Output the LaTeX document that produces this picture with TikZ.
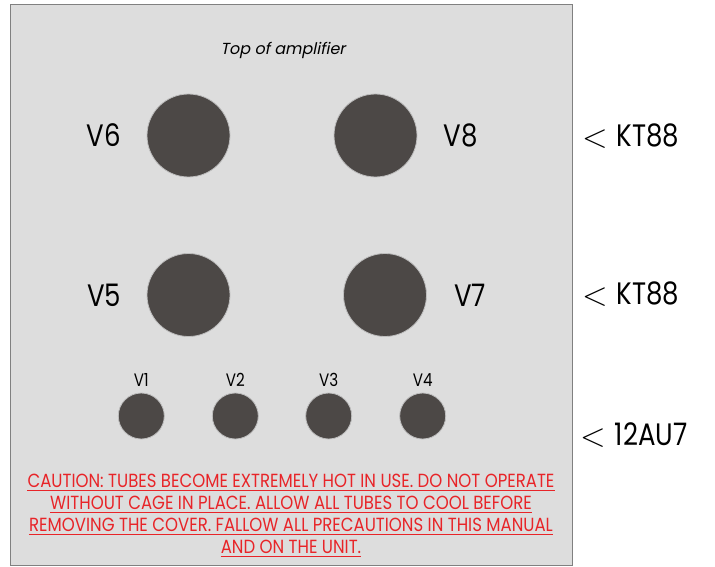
\documentclass[tikz,border=0pt]{standalone}
\usepackage{fontspec}
\setmainfont{Poppins}
\newfontfamily\condfont[FakeStretch=0.87]{Poppins}
\newfontfamily\labfont[FakeStretch=0.84]{Poppins}
\newfontfamily\slantfont[FakeSlant=0.2]{Poppins}
\definecolor{panelgray}{RGB}{221,221,221}
\definecolor{bordergray}{RGB}{128,128,128}
\definecolor{tubecol}{RGB}{76,72,70}
\definecolor{tubeedge}{RGB}{190,190,190}
\definecolor{warnred}{RGB}{232,36,40}
\tikzset{
  bigtube/.style={circle,fill=tubecol,draw=tubeedge,line width=0.8pt,minimum size=83pt,inner sep=0pt},
  smalltube/.style={circle,fill=tubecol,draw=tubeedge,line width=0.8pt,minimum size=46pt,inner sep=0pt},
  biglabel/.style={font=\labfont\fontsize{31}{34}\selectfont,text=black,inner sep=0pt},
  smalllabel/.style={font=\labfont\fontsize{18}{20}\selectfont,text=black,inner sep=0pt},
  typelabel/.style={font=\labfont\fontsize{31}{34}\selectfont,text=black,inner sep=0pt,anchor=west},
  warnline/.style={font=\condfont\fontsize{19}{20}\selectfont,text=warnred,inner sep=0pt},
  uline/.style={draw=warnred,line width=0.8pt}
}
\newcommand{\lt}{\raisebox{-1pt}{\scalebox{1.35}{\fontsize{24.88}{26}\selectfont$<$}}\hspace{9pt}}
\begin{document}
\begin{tikzpicture}[x=1pt,y=-1pt]
\useasboundingbox (0,0) rectangle (715,567);
\draw[fill=panelgray,draw=bordergray,line width=1pt] (10,5) rectangle (572,565);
\node[font=\slantfont\fontsize{16}{18}\selectfont,inner sep=0pt] (top) at (283,50) {Top of amplifier};
% big tubes
\node[bigtube] (v6) at (188.5,135.5) {};
\node[bigtube] (v8) at (375.5,135.5) {};
\node[bigtube] (v5) at (188.5,295) {};
\node[bigtube] (v7) at (385,295) {};
\node[biglabel] (l6) at (104,135) {V6};
\node[biglabel] (l8) at (461,135) {V8};
\node[biglabel] (l5) at (104,295) {V5};
\node[biglabel] (l7) at (470,295) {V7};
% small tubes
\node[smalltube] (v1) at (141.3,416) {};
\node[smalltube] (v2) at (235.3,416) {};
\node[smalltube] (v3) at (328.7,416) {};
\node[smalltube] (v4) at (422.7,416) {};
\node[smalllabel] (l1) at (141.3,380) {V1};
\node[smalllabel] (l2) at (235.3,380) {V2};
\node[smalllabel] (l3) at (328.7,380) {V3};
\node[smalllabel] (l4) at (422.7,380) {V4};
% type labels
\node[typelabel] (t1) at (582,136) {\lt KT88};
\node[typelabel] (t2) at (582,294) {\lt KT88};
\node[typelabel] (t3) at (580,435) {\lt 12AU7};
% caution
\node[warnline] (c1) at (291,481) {CAUTION: TUBES BECOME EXTREMELY HOT IN USE. DO NOT OPERATE};
\node[warnline] (c2) at (291,503) {WITHOUT CAGE IN PLACE. ALLOW ALL TUBES TO COOL BEFORE};
\node[warnline] (c3) at (291,525) {REMOVING THE COVER. FALLOW ALL PRECAUTIONS IN THIS MANUAL};
\node[warnline] (c4) at (291,547) {AND ON THE UNIT.};
\foreach \n in {c1,c2,c3,c4}{
  \draw[uline] ([yshift=-3pt]\n.base west) -- ([yshift=-3pt]\n.base east);
}
\end{tikzpicture}
\end{document}
